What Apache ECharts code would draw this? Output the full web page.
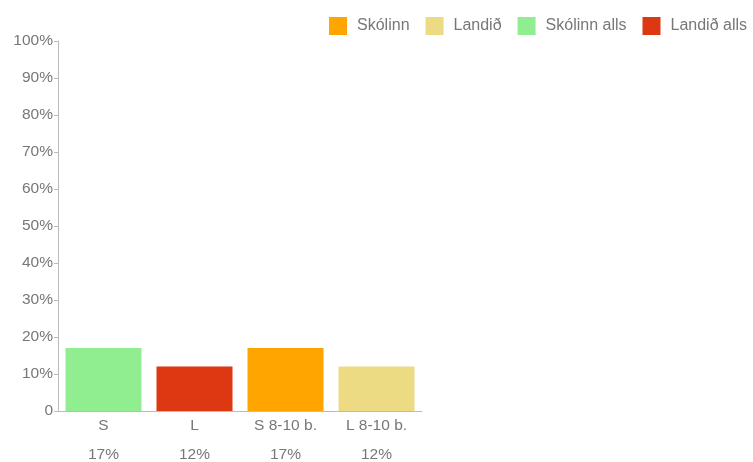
<!DOCTYPE html>
<html><head><meta charset="utf-8">
<script src="https://cdn.jsdelivr.net/npm/echarts@6/dist/echarts.min.js"></script>
<style>html,body{margin:0;padding:0;background:#fff}#c{width:753px;height:462px}</style>
</head><body><div id="c"></div>
<script>
const categories = ['S', 'L', 'S 8-10 b.', 'L 8-10 b.'];
const valueLabels = ['17%', '12%', '17%', '12%'];
const seriesNames = ['Skólinn', 'Landið', 'Skólinn alls', 'Landið alls'];
const skolinn = ['-', '-', 17, '-'];
const landid = ['-', '-', '-', 12];
const skolinnAlls = [17, '-', '-', '-'];
const landidAlls = ['-', 12, '-', '-'];
const yTicks = [0, 10, 20, 30, 40, 50, 60, 70, 80, 90, 100];
const colors = ['#FFA500', '#ECDB83', '#90EE90', '#DC3912'];

const seriesData = [skolinn, landid, skolinnAlls, landidAlls];
const chart = echarts.init(document.getElementById('c'), null, {renderer: 'canvas'});
const font = 'Liberation Sans, Arial, sans-serif';
const fs = 15.5;
chart.setOption({
  animation: false,
  color: colors,
  legend: {
    right: 1, top: 12, itemWidth: 18, itemHeight: 18, itemGap: 16,
    icon: 'rect',
    textStyle: {fontFamily: font, fontSize: 16, color: '#777', padding: [0, 0, 0, 5]},
    data: seriesNames
  },
  grid: {left: 58, right: 331, top: 41, bottom: 51, containLabel: false, outerBoundsMode: 'none'},
  xAxis: {
    type: 'category', data: categories,
    axisLine: {lineStyle: {color: '#bbb'}},
    axisTick: {alignWithLabel: true, length: 4, lineStyle: {color: '#bbb'}},
    axisLabel: {
      margin: 7,
      formatter: (v, i) => '{a|' + v + '}\n{b|' + valueLabels[i] + '}',
      rich: {
        a: {fontFamily: font, fontSize: fs, color: '#777', lineHeight: 16},
        b: {fontFamily: font, fontSize: fs, color: '#777', lineHeight: 42}
      }
    }
  },
  yAxis: {
    type: 'value', min: yTicks[0], max: yTicks[yTicks.length - 1], interval: 10,
    axisLine: {show: true, lineStyle: {color: '#bbb'}},
    axisTick: {show: true, length: 4, lineStyle: {color: '#bbb'}},
    splitLine: {show: false},
    axisLabel: {
      margin: 5,
      fontFamily: font, fontSize: fs, color: '#777',
      formatter: v => v === 0 ? '0' : v + '%'
    }
  },
  series: seriesNames.map((n, i) => ({
    name: n, type: 'bar', stack: 'all', barWidth: 76,
    data: seriesData[i]
  }))
});
</script></body></html>
